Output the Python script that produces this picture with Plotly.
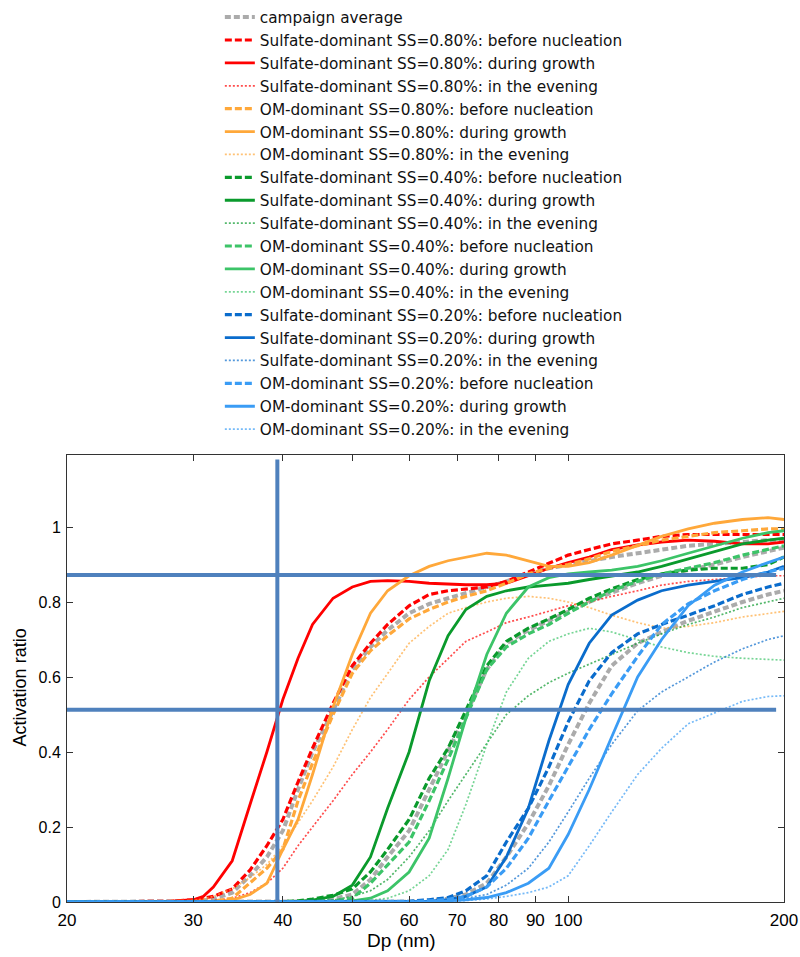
import plotly.graph_objects as go

# Particle diameter grid (nm)
dp = [20, 25, 28, 30, 31, 32, 34, 36, 38, 40, 42, 44, 47, 50, 53, 56, 60, 64, 68, 72,
      77, 82, 88, 94, 100, 107, 115, 125, 135, 147, 160, 175, 190, 200]

# Campaign averages (one curve per supersaturation)
avg_080 = [0, 0, 0, 0.002, 0.004, 0.008, 0.025, 0.07, 0.12, 0.19, 0.30, 0.40, 0.51, 0.62, 0.68, 0.725, 0.77,
           0.795, 0.81, 0.825, 0.84, 0.855, 0.875, 0.89, 0.90, 0.91, 0.92, 0.93, 0.94, 0.95, 0.955, 0.96, 0.965, 0.965]
avg_040 = [0, 0, 0, 0, 0, 0, 0, 0, 0, 0, 0.001, 0.003, 0.008, 0.02, 0.06, 0.12, 0.19, 0.30, 0.40, 0.50,
           0.62, 0.69, 0.725, 0.75, 0.775, 0.80, 0.825, 0.85, 0.87, 0.885, 0.90, 0.92, 0.935, 0.945]
avg_020 = [0, 0, 0, 0, 0, 0, 0, 0, 0, 0, 0, 0, 0, 0, 0, 0, 0.001, 0.004, 0.009, 0.02,
           0.05, 0.12, 0.21, 0.31, 0.42, 0.53, 0.63, 0.69, 0.72, 0.75, 0.775, 0.80, 0.82, 0.83]

# SS = 0.80 %
sul080_before = [0, 0, 0.002, 0.006, 0.01, 0.015, 0.035, 0.085, 0.15, 0.22, 0.32, 0.41, 0.53, 0.63, 0.69, 0.74, 0.79,
                 0.82, 0.83, 0.835, 0.84, 0.855, 0.88, 0.905, 0.925, 0.94, 0.955, 0.965, 0.975, 0.98, 0.98, 0.98, 0.98, 0.98]
sul080_growth = [0, 0, 0.002, 0.006, 0.015, 0.04, 0.11, 0.26, 0.40, 0.54, 0.65, 0.74, 0.81, 0.84, 0.855, 0.857, 0.855,
                 0.85, 0.848, 0.846, 0.846, 0.85, 0.87, 0.89, 0.905, 0.92, 0.94, 0.952, 0.96, 0.965, 0.962, 0.955, 0.955, 0.96]
sul080_evening = [0, 0, 0, 0.001, 0.002, 0.004, 0.01, 0.025, 0.05, 0.09, 0.15, 0.20, 0.27, 0.34, 0.40, 0.46, 0.54,
                  0.60, 0.65, 0.695, 0.72, 0.745, 0.76, 0.775, 0.79, 0.80, 0.815, 0.83, 0.845, 0.855, 0.86, 0.865, 0.87, 0.87]
om080_before = [0, 0, 0, 0, 0, 0.002, 0.01, 0.05, 0.09, 0.14, 0.27, 0.37, 0.50, 0.61, 0.67, 0.71, 0.755,
                0.78, 0.80, 0.815, 0.83, 0.85, 0.875, 0.89, 0.90, 0.915, 0.935, 0.95, 0.965, 0.975, 0.985, 0.99, 0.995, 0.995]
om080_growth = [0, 0, 0, 0, 0, 0.001, 0.005, 0.02, 0.05, 0.14, 0.22, 0.34, 0.52, 0.66, 0.77, 0.83, 0.87,
                0.895, 0.91, 0.92, 0.93, 0.925, 0.91, 0.895, 0.895, 0.905, 0.925, 0.95, 0.975, 0.995, 1.01, 1.02, 1.025, 1.02]
om080_evening = [0, 0, 0.001, 0.004, 0.008, 0.015, 0.035, 0.065, 0.10, 0.15, 0.21, 0.27, 0.36, 0.46, 0.545, 0.61, 0.69,
                 0.735, 0.77, 0.785, 0.80, 0.81, 0.815, 0.81, 0.80, 0.785, 0.765, 0.745, 0.73, 0.735, 0.745, 0.76, 0.77, 0.775]

# SS = 0.40 %
sul040_before = [0, 0, 0, 0, 0, 0, 0, 0, 0, 0.001, 0.003, 0.008, 0.018, 0.035, 0.08, 0.14, 0.22,
                 0.33, 0.41, 0.51, 0.63, 0.695, 0.73, 0.755, 0.78, 0.81, 0.835, 0.86, 0.875, 0.885, 0.89, 0.89, 0.90, 0.92]
sul040_growth = [0, 0, 0, 0, 0, 0, 0, 0, 0, 0, 0.001, 0.005, 0.015, 0.045, 0.12, 0.25, 0.40,
                 0.59, 0.71, 0.78, 0.815, 0.83, 0.84, 0.845, 0.85, 0.86, 0.87, 0.88, 0.895, 0.915, 0.935, 0.955, 0.965, 0.97]
sul040_evening = [0, 0, 0, 0, 0, 0, 0, 0, 0, 0, 0, 0.002, 0.005, 0.015, 0.03, 0.06, 0.12,
                  0.19, 0.27, 0.34, 0.42, 0.50, 0.55, 0.585, 0.61, 0.635, 0.66, 0.69, 0.715, 0.74, 0.76, 0.785, 0.80, 0.81]
om040_before = [0, 0, 0, 0, 0, 0, 0, 0, 0, 0, 0, 0.001, 0.003, 0.01, 0.05, 0.10, 0.16,
                0.27, 0.38, 0.49, 0.62, 0.68, 0.715, 0.74, 0.77, 0.80, 0.83, 0.855, 0.875, 0.89, 0.905, 0.925, 0.94, 0.95]
om040_growth = [0, 0, 0, 0, 0, 0, 0, 0, 0, 0, 0, 0, 0.001, 0.003, 0.01, 0.03, 0.08,
                0.17, 0.33, 0.49, 0.66, 0.77, 0.84, 0.865, 0.875, 0.88, 0.885, 0.895, 0.91, 0.93, 0.95, 0.97, 0.985, 0.99]
om040_evening = [0, 0, 0, 0, 0, 0, 0, 0, 0, 0, 0, 0, 0, 0.001, 0.004, 0.01, 0.03,
                 0.07, 0.14, 0.26, 0.42, 0.56, 0.65, 0.695, 0.715, 0.73, 0.72, 0.70, 0.68, 0.665, 0.655, 0.65, 0.648, 0.645]

# SS = 0.20 %
sul020_before = [0, 0, 0, 0, 0, 0, 0, 0, 0, 0, 0, 0, 0, 0, 0, 0, 0.002,
                 0.006, 0.012, 0.03, 0.07, 0.16, 0.25, 0.36, 0.48, 0.59, 0.665, 0.715, 0.74, 0.765, 0.79, 0.82, 0.84, 0.85]
sul020_growth = [0, 0, 0, 0, 0, 0, 0, 0, 0, 0, 0, 0, 0, 0, 0, 0, 0,
                 0.002, 0.006, 0.015, 0.04, 0.12, 0.25, 0.43, 0.58, 0.69, 0.765, 0.805, 0.83, 0.845, 0.855, 0.865, 0.88, 0.895]
sul020_evening = [0, 0, 0, 0, 0, 0, 0, 0, 0, 0, 0, 0, 0, 0, 0, 0, 0,
                  0.002, 0.005, 0.01, 0.02, 0.045, 0.09, 0.16, 0.24, 0.33, 0.42, 0.51, 0.56, 0.60, 0.64, 0.675, 0.70, 0.71]
om020_before = [0, 0, 0, 0, 0, 0, 0, 0, 0, 0, 0, 0, 0, 0, 0, 0, 0.001,
                0.003, 0.007, 0.015, 0.04, 0.09, 0.17, 0.27, 0.36, 0.46, 0.555, 0.655, 0.74, 0.795, 0.83, 0.86, 0.88, 0.89]
om020_growth = [0, 0, 0, 0, 0, 0, 0, 0, 0, 0, 0, 0, 0, 0, 0, 0, 0,
                0.001, 0.003, 0.006, 0.012, 0.025, 0.05, 0.09, 0.18, 0.30, 0.44, 0.60, 0.70, 0.79, 0.845, 0.88, 0.905, 0.92]
om020_evening = [0, 0, 0, 0, 0, 0, 0, 0, 0, 0, 0, 0, 0, 0, 0, 0, 0,
                 0, 0.002, 0.004, 0.008, 0.015, 0.025, 0.04, 0.07, 0.15, 0.24, 0.34, 0.41, 0.475, 0.505, 0.535, 0.548, 0.55]

# Reference guide lines
guide_dp = 39.3
guide_levels = [0.872, 0.513]
guide_x_span = [20, 195]
guide_y_span = [0, 1.18]

x_ticks = [20, 30, 40, 50, 60, 70, 80, 90, 100, 200]
y_ticks = [0, 0.2, 0.4, 0.6, 0.8, 1]
y_tick_text = ["0", "0.2", "0.4", "0.6", "0.8", "1"]

x_title = "Dp (nm)"
y_title = "Activation ratio"

RED = "#ff0000"
ORANGE = "#ffa83a"
DGREEN = "#0a9a2c"
LGREEN = "#3cc468"
DBLUE = "#0a6ccc"
LBLUE = "#3a9cf5"
GRAY = "#ababab"
GUIDE = "#4f81bd"

DASH = "7px,3px"
DOT = "2px,2px"

series = [
    ("Sulfate-dominant SS=0.80%: before nucleation", sul080_before, RED, "dash"),
    ("Sulfate-dominant SS=0.80%: during growth", sul080_growth, RED, "solid"),
    ("Sulfate-dominant SS=0.80%: in the evening", sul080_evening, RED, "dot"),
    ("OM-dominant SS=0.80%: before nucleation", om080_before, ORANGE, "dash"),
    ("OM-dominant SS=0.80%: during growth", om080_growth, ORANGE, "solid"),
    ("OM-dominant SS=0.80%: in the evening", om080_evening, ORANGE, "dot"),
    ("Sulfate-dominant SS=0.40%: before nucleation", sul040_before, DGREEN, "dash"),
    ("Sulfate-dominant SS=0.40%: during growth", sul040_growth, DGREEN, "solid"),
    ("Sulfate-dominant SS=0.40%: in the evening", sul040_evening, DGREEN, "dot"),
    ("OM-dominant SS=0.40%: before nucleation", om040_before, LGREEN, "dash"),
    ("OM-dominant SS=0.40%: during growth", om040_growth, LGREEN, "solid"),
    ("OM-dominant SS=0.40%: in the evening", om040_evening, LGREEN, "dot"),
    ("Sulfate-dominant SS=0.20%: before nucleation", sul020_before, DBLUE, "dash"),
    ("Sulfate-dominant SS=0.20%: during growth", sul020_growth, DBLUE, "solid"),
    ("Sulfate-dominant SS=0.20%: in the evening", sul020_evening, DBLUE, "dot"),
    ("OM-dominant SS=0.20%: before nucleation", om020_before, LBLUE, "dash"),
    ("OM-dominant SS=0.20%: during growth", om020_growth, LBLUE, "solid"),
    ("OM-dominant SS=0.20%: in the evening", om020_evening, LBLUE, "dot"),
]

fig = go.Figure()

# campaign average (three curves, one legend entry)
for i, ys in enumerate([avg_080, avg_040, avg_020]):
    fig.add_trace(go.Scatter(
        x=dp, y=ys, mode="lines", name="campaign average",
        legendgroup="avg", showlegend=(i == 0),
        line=dict(color=GRAY, width=4, dash="6px,3px"),
    ))

for name, ys, color, style in series:
    if style == "dash":
        line = dict(color=color, width=3.2, dash=DASH)
        op = 1.0
    elif style == "solid":
        line = dict(color=color, width=2.8)
        op = 1.0
    else:
        line = dict(color=color, width=1.7, dash=DOT)
        op = 0.7
    fig.add_trace(go.Scatter(x=dp, y=ys, mode="lines", name=name, line=line, opacity=op))

# guide lines
for lvl in guide_levels:
    fig.add_trace(go.Scatter(x=guide_x_span, y=[lvl, lvl], mode="lines", showlegend=False,
                             line=dict(color=GUIDE, width=4), hoverinfo="skip", cliponaxis=False))
fig.add_trace(go.Scatter(x=[guide_dp, guide_dp], y=guide_y_span, mode="lines", showlegend=False,
                         line=dict(color=GUIDE, width=4), hoverinfo="skip", cliponaxis=False))

fig.update_layout(
    width=800, height=957,
    margin=dict(l=67, r=16, t=455, b=55, autoexpand=False),
    paper_bgcolor="white", plot_bgcolor="white",
    font=dict(family="Liberation Sans, Arial, sans-serif", color="black"),
    showlegend=True,
    legend=dict(
        xref="container", yref="container",
        x=0.2748, y=0.9993, xanchor="left", yanchor="top",
        font=dict(family="DejaVu Sans, sans-serif", size=15.3, color="#111111"),
        bgcolor="rgba(0,0,0,0)", borderwidth=0, traceorder="normal",
    ),
    xaxis=dict(
        type="log", range=[1.30103, 2.30103],
        tickvals=x_ticks, ticktext=[str(v) for v in x_ticks],
        ticks="inside", ticklen=6, tickcolor="#333333",
        showline=True, linecolor="#333333", linewidth=1, mirror="allticks",
        showgrid=False, zeroline=False, ticklabelstandoff=3,
        tickfont=dict(size=17, color="black"),
    ),
    yaxis=dict(
        range=[0, 1.192],
        tickvals=y_ticks, ticktext=y_tick_text,
        ticks="inside", ticklen=6, tickcolor="#333333",
        showline=True, linecolor="#333333", linewidth=1, mirror="allticks",
        showgrid=False, zeroline=False, ticklabelstandoff=2,
        tickfont=dict(size=16, color="black"),
    ),
    annotations=[
        dict(text=x_title, xref="paper", yref="paper", x=0.467, y=-0.087,
             xanchor="center", yanchor="middle", showarrow=False,
             font=dict(size=19, color="black")),
        dict(text=y_title, xref="paper", yref="paper", x=-0.0656, y=0.48,
             xanchor="center", yanchor="middle", textangle=-90, showarrow=False,
             font=dict(size=18, color="black")),
    ],
)

fig.write_html("out.html", post_script="document.body.style.margin='0px';",
               config={"displayModeBar": False})
